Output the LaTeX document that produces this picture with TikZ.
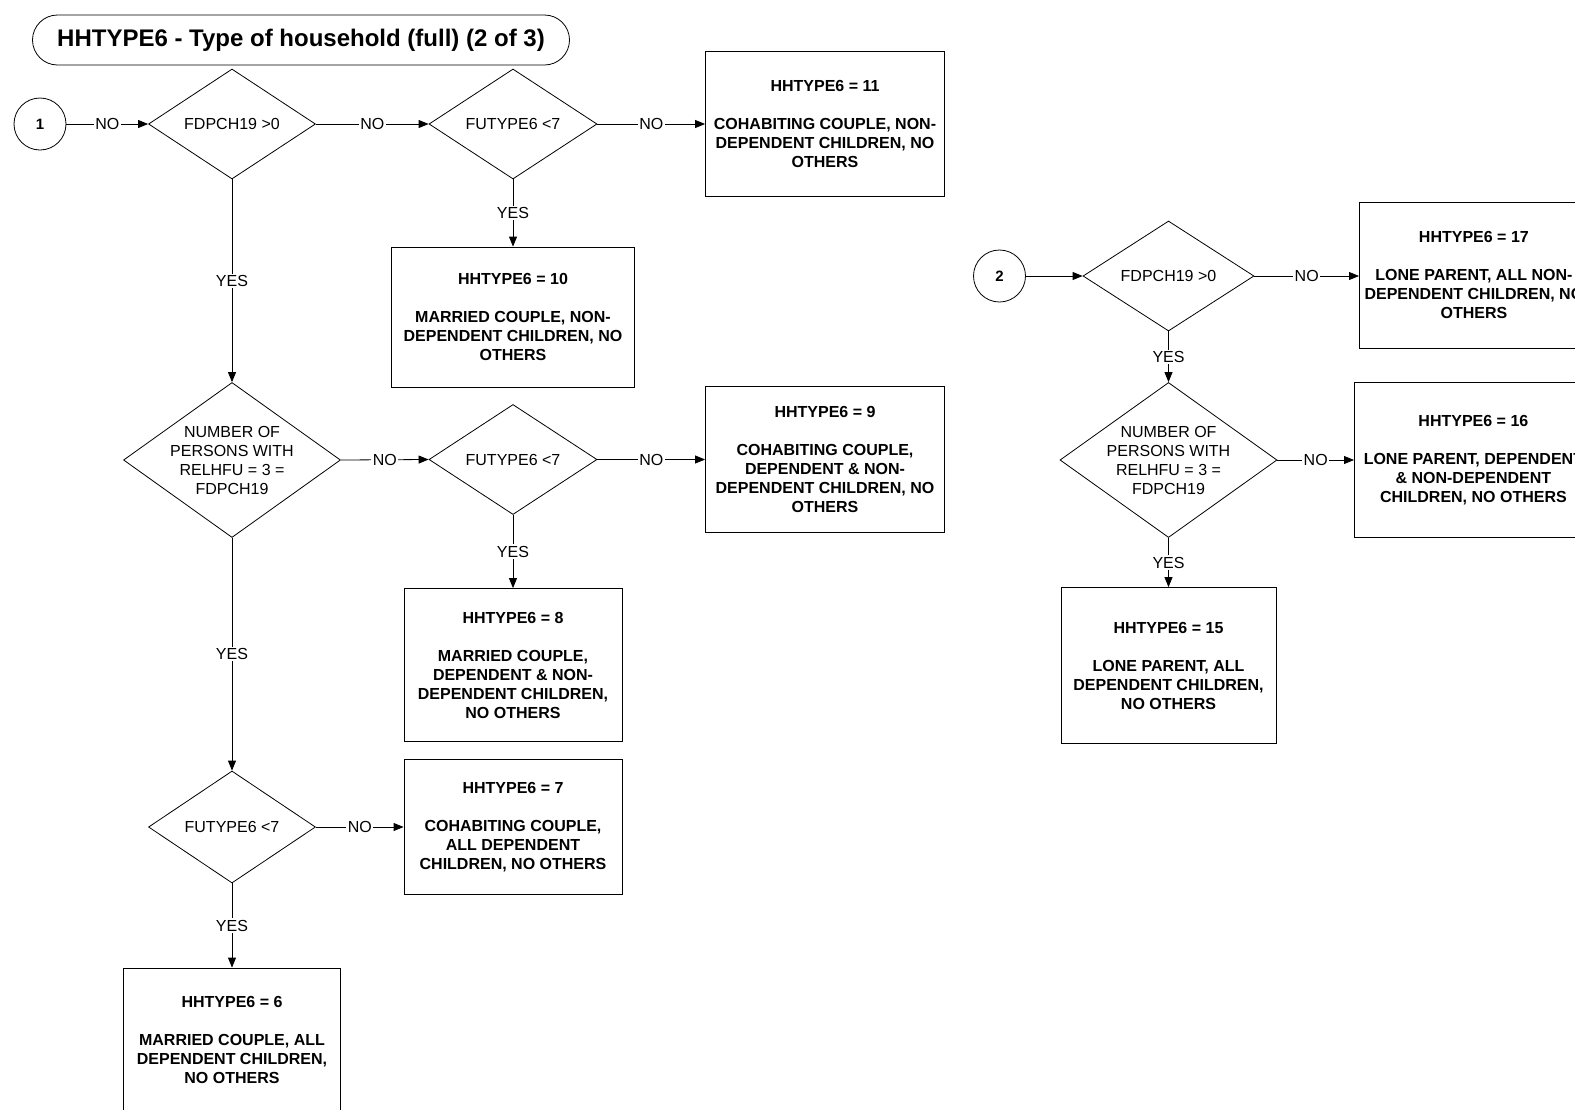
\documentclass[tikz,border=0pt]{standalone}
\usepackage{fontspec}
\setmainfont{Liberation Sans}
\usetikzlibrary{arrows.meta}
\usetikzlibrary{shapes.geometric}

\begin{document}
\begin{tikzpicture}[x = 1pt, y = -1pt,
		decision/.style = {diamond, draw, line width = 0.8pt, aspect = 1.5, inner sep = 0pt, minimum width = 167pt, minimum height = 110pt, align = center, font = \fontsize{16}{19}\selectfont},
		bigdecision/.style = {decision, aspect = 1.4, inner sep = -1pt, minimum width = 217pt, minimum height = 155pt},
		outcome/.style = {rectangle, draw, line width = 0.8pt, inner sep = 0pt, align = center, font = \bfseries\fontsize{16}{19}\selectfont},
		connector/.style = {circle, draw, line width = 0.8pt, minimum size = 52pt, inner sep = 0pt, font = \bfseries\fontsize{15}{18}\selectfont},
		titlebox/.style = {rectangle, draw, line width = 0.8pt, rounded corners = 25pt, minimum width = 537pt, minimum height = 50pt, font = \bfseries\fontsize{24}{28}\selectfont},
		flow/.style = {-{Triangle[length = 10pt, width = 8pt]}, line width = 0.8pt},
		lbl/.style = {fill = white, inner sep = 1.5pt, font = \fontsize{16}{19}\selectfont}]
			%\draw[help lines, step = 100] (0, 0) grid (1575, 1109);
			\useasboundingbox (0, 0) rectangle (1575, 1109);
			\node[titlebox] (title) at (301, 40) {HHTYPE6 - Type of household (full) (2 of 3)};

			% page connector 1
			\node[connector] (c1) at (40, 124) {1};
			\node[decision] (d1) at (232, 124) {FDPCH19 >0};
			\node[decision, minimum width = 168pt] (d2) at (513, 124) {FUTYPE6 <7};
			\node[outcome, minimum width = 239pt, minimum height = 145pt] (b11) at (825, 124) {HHTYPE6 = 11\\[19pt]COHABITING COUPLE, NON-\\DEPENDENT CHILDREN, NO\\OTHERS};
			\node[outcome, minimum width = 243pt, minimum height = 140pt] (b10) at (513, 317) {HHTYPE6 = 10\\[19pt]MARRIED COUPLE, NON-\\DEPENDENT CHILDREN, NO\\OTHERS};

			\node[bigdecision] (d3) at (232, 460) {NUMBER OF\\PERSONS WITH\\RELHFU = 3 =\\FDPCH19};
			\node[decision, minimum width = 168pt] (d4) at (513, 459.5) {FUTYPE6 <7};
			\node[outcome, minimum width = 239pt, minimum height = 146pt] (b9) at (825, 459.5) {HHTYPE6 = 9\\[19pt]COHABITING COUPLE,\\DEPENDENT \& NON-\\DEPENDENT CHILDREN, NO\\OTHERS};
			\node[outcome, minimum width = 218pt, minimum height = 153pt] (b8) at (513, 665) {HHTYPE6 = 8\\[19pt]MARRIED COUPLE,\\DEPENDENT \& NON-\\DEPENDENT CHILDREN,\\NO OTHERS};

			\node[decision, minimum height = 112pt] (d5) at (232, 827) {FUTYPE6 <7};
			\node[outcome, minimum width = 218pt, minimum height = 135pt] (b7) at (513, 827) {HHTYPE6 = 7\\[19pt]COHABITING COUPLE,\\ALL DEPENDENT\\CHILDREN, NO OTHERS};
			\node[outcome, minimum width = 217pt, minimum height = 144pt] (b6) at (232, 1040) {HHTYPE6 = 6\\[19pt]MARRIED COUPLE, ALL\\DEPENDENT CHILDREN,\\NO OTHERS};

			% page connector 2
			\node[connector] (c2) at (999.5, 276) {2};
			\node[decision, minimum width = 171pt] (d6) at (1168.5, 276) {FDPCH19 >0};
			\node[outcome, anchor = west, minimum width = 229pt, minimum height = 146pt] (b17) at (1359, 275) {HHTYPE6 = 17\\[19pt]LONE PARENT, ALL NON-\\DEPENDENT CHILDREN, NO\\OTHERS};
			\node[bigdecision] (d7) at (1168.5, 460) {NUMBER OF\\PERSONS WITH\\RELHFU = 3 =\\FDPCH19};
			\node[outcome, anchor = west, minimum width = 238pt, minimum height = 155pt] (b16) at (1354, 460) {HHTYPE6 = 16\\[19pt]LONE PARENT, DEPENDENT\\\& NON-DEPENDENT\\CHILDREN, NO OTHERS};
			\node[outcome, minimum width = 215pt, minimum height = 156pt] (b15) at (1168.5, 665.5) {HHTYPE6 = 15\\[19pt]LONE PARENT, ALL\\DEPENDENT CHILDREN,\\NO OTHERS};

			\draw[flow] (c1.east) -- node[lbl] {NO} (d1.west);
			\draw[flow] (d1.east) -- node[lbl] {NO} (d2.west);
			\draw[flow] (d2.east) -- node[lbl] {NO} (b11.west);
			\draw[flow] (d2.south) -- node[lbl] {YES} (b10.north);
			\draw[flow] (d1.south) -- node[lbl] {YES} (d3.north);
			\draw[flow] (d3.east) -- node[lbl] {NO} (d4.west);
			\draw[flow] (d4.east) -- node[lbl] {NO} (b9.west);
			\draw[flow] (d4.south) -- node[lbl] {YES} (b8.north);
			\draw[flow] (d3.south) -- node[lbl] {YES} (d5.north);
			\draw[flow] (d5.east) -- node[lbl] {NO} (b7.west);
			\draw[flow] (d5.south) -- node[lbl] {YES} (b6.north);

			\draw[flow] (c2.east) -- (d6.west);
			\draw[flow] (d6.east) -- node[lbl] {NO} (d6.east -| b17.west);
			\draw[flow] (d6.south) -- node[lbl] {YES} (d7.north);
			\draw[flow] (d7.east) -- node[lbl] {NO} (b16.west);
			\draw[flow] (d7.south) -- node[lbl] {YES} (b15.north);
		\end{tikzpicture}
\end{document}
